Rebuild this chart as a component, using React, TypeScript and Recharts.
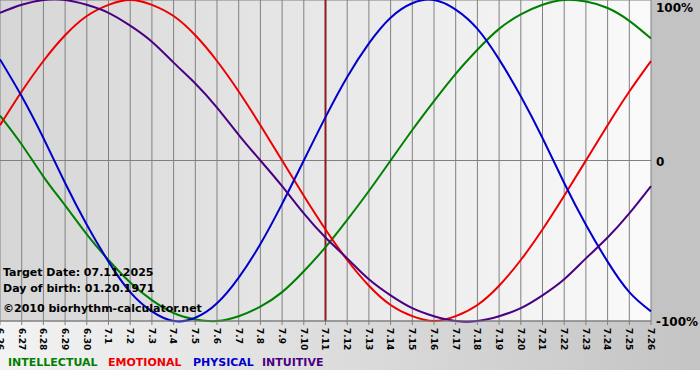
import React from 'react';
import { LineChart, Line, XAxis, YAxis, CartesianGrid, ReferenceLine } from 'recharts';

// Days shown on the x axis
const dates = [
  '6.26', '6.27', '6.28', '6.29', '6.30',
  '7.1', '7.2', '7.3', '7.4', '7.5', '7.6', '7.7', '7.8', '7.9', '7.10',
  '7.11', '7.12', '7.13', '7.14', '7.15', '7.16', '7.17', '7.18', '7.19', '7.20',
  '7.21', '7.22', '7.23', '7.24', '7.25', '7.26',
];

// Cycle values (-1 .. 1)
const intellectual = [
  0.28, 0.10, -0.10, -0.28, -0.46, -0.62, -0.76, -0.87, -0.95, -0.99, -1.00,
  -0.97, -0.91, -0.82, -0.69, -0.54, -0.37, -0.19, 0.00, 0.19, 0.37,
  0.54, 0.69, 0.82, 0.91, 0.97, 1.00, 0.99, 0.95, 0.87, 0.76,
];
const emotional = [
  0.22, 0.43, 0.62, 0.78, 0.90, 0.97, 1.00, 0.97, 0.90, 0.78, 0.62,
  0.43, 0.22, 0.00, -0.22, -0.43, -0.62, -0.78, -0.90, -0.97, -1.00,
  -0.97, -0.90, -0.78, -0.62, -0.43, -0.22, 0.00, 0.22, 0.43, 0.62,
];
const physical = [
  0.63, 0.40, 0.14, -0.14, -0.40, -0.63, -0.82, -0.94, -1.00, -0.98, -0.89,
  -0.73, -0.52, -0.27, 0.00, 0.27, 0.52, 0.73, 0.89, 0.98, 1.00,
  0.94, 0.82, 0.63, 0.40, 0.14, -0.14, -0.40, -0.63, -0.82, -0.94,
];
const intuitive = [
  0.92, 0.97, 1.00, 1.00, 0.97, 0.92, 0.84, 0.74, 0.61, 0.48, 0.33,
  0.16, 0.00, -0.16, -0.33, -0.48, -0.61, -0.74, -0.84, -0.92, -0.97,
  -1.00, -1.00, -0.97, -0.92, -0.84, -0.74, -0.61, -0.48, -0.33, -0.16,
];

const yTicks = [-1, 0, 1];
const yTickLabels: Record<string, string> = { '1': '100%', '0': '0', '-1': '-100%' };
const targetDate = '7.11';

const FONT = '"DejaVu Sans", Verdana, sans-serif';

const C_INT = '#008000';
const C_EMO = '#ee0000';
const C_PHY = '#0000cc';
const C_ITU = '#4b0082';

const DateTick = (props: any) => {
  const { x, y, payload } = props;
  return (
    <g transform={`translate(${x},${y + 1})`}>
      <text
        transform="rotate(90)"
        textAnchor="start"
        dy="0.35em"
        fontFamily={FONT}
        fontSize={9}
        fontWeight="bold"
        fill="#000"
      >
        {payload.value}
      </text>
    </g>
  );
};

const PercentTick = (props: any) => {
  const { x, y, payload } = props;
  const v = payload.value;
  const base = typeof payload.coordinate === 'number' ? payload.coordinate : y;
  const dy = v === 1 ? 12 : 5;
  return (
    <text x={x - 3} y={base + dy} textAnchor="start" fontFamily={FONT} fontSize={12} fontWeight="bold" fill="#000">
      {yTickLabels[String(v)]}
    </text>
  );
};

const App: React.FC = () => {
  const data = dates.map((d, i) => ({
    date: d,
    intellectual: intellectual[i],
    emotional: emotional[i],
    physical: physical[i],
    intuitive: intuitive[i],
  }));

  return (
    <div style={{ position: 'absolute', left: 0, top: 0, width: 700, height: 380, background: '#fff', overflow: 'hidden' }}>
      {/* backgrounds */}
      <div style={{ position: 'absolute', left: 0, top: 0, width: 651, height: 321, background: 'linear-gradient(to right, #d6d6d6, #fafafa)' }} />
      <div style={{ position: 'absolute', left: 651, top: 0, width: 49, height: 321, background: '#c3c3c3' }} />
      <div style={{ position: 'absolute', left: 0, top: 321, width: 700, height: 49, background: 'linear-gradient(to right, #f3f3f3, #c4c4c4)' }} />

      <div style={{ position: 'absolute', left: 0, top: 0, pointerEvents: 'none' }}>
        <LineChart width={700} height={380} data={data} margin={{ top: 0, right: 0, bottom: 0, left: 0 }}>
          <CartesianGrid stroke="#808080" strokeWidth={1} />
          <XAxis
            dataKey="date"
            interval={0}
            height={59}
            tick={<DateTick />}
            tickLine={{ stroke: '#808080' }}
            tickSize={4}
            axisLine={{ stroke: '#808080' }}
          />
          <YAxis
            orientation="right"
            width={49}
            domain={[-1, 1]}
            ticks={yTicks}
            tick={<PercentTick />}
            tickLine={false}
            axisLine={false}
          />
          <ReferenceLine x={targetDate} stroke="#8b1c1c" strokeWidth={2} />
          <Line type="natural" dataKey="intellectual" stroke={C_INT} strokeWidth={2} dot={false} activeDot={false} isAnimationActive={false} />
          <Line type="natural" dataKey="emotional" stroke={C_EMO} strokeWidth={2} dot={false} activeDot={false} isAnimationActive={false} />
          <Line type="natural" dataKey="physical" stroke={C_PHY} strokeWidth={2} dot={false} activeDot={false} isAnimationActive={false} />
          <Line type="natural" dataKey="intuitive" stroke={C_ITU} strokeWidth={2} dot={false} activeDot={false} isAnimationActive={false} />
        </LineChart>
      </div>

      {/* info text and legend */}
      <svg width={700} height={380} style={{ position: 'absolute', left: 0, top: 0, pointerEvents: 'none' }}>
        <g fontFamily={FONT} fontSize={11} fontWeight="bold">
          <text x={3} y={276} fill="#000">Target Date: 07.11.2025</text>
          <text x={3} y={292} fill="#000">Day of birth: 01.20.1971</text>
          <text x={3} y={312} fill="#000">©2010 biorhythm-calculator.net</text>
          <text x={8} y={366} fill={C_INT}>INTELLECTUAL</text>
          <text x={108} y={366} fill={C_EMO}>EMOTIONAL</text>
          <text x={193} y={366} fill={C_PHY}>PHYSICAL</text>
          <text x={262} y={366} fill={C_ITU}>INTUITIVE</text>
        </g>
      </svg>
    </div>
  );
};

export default App;
